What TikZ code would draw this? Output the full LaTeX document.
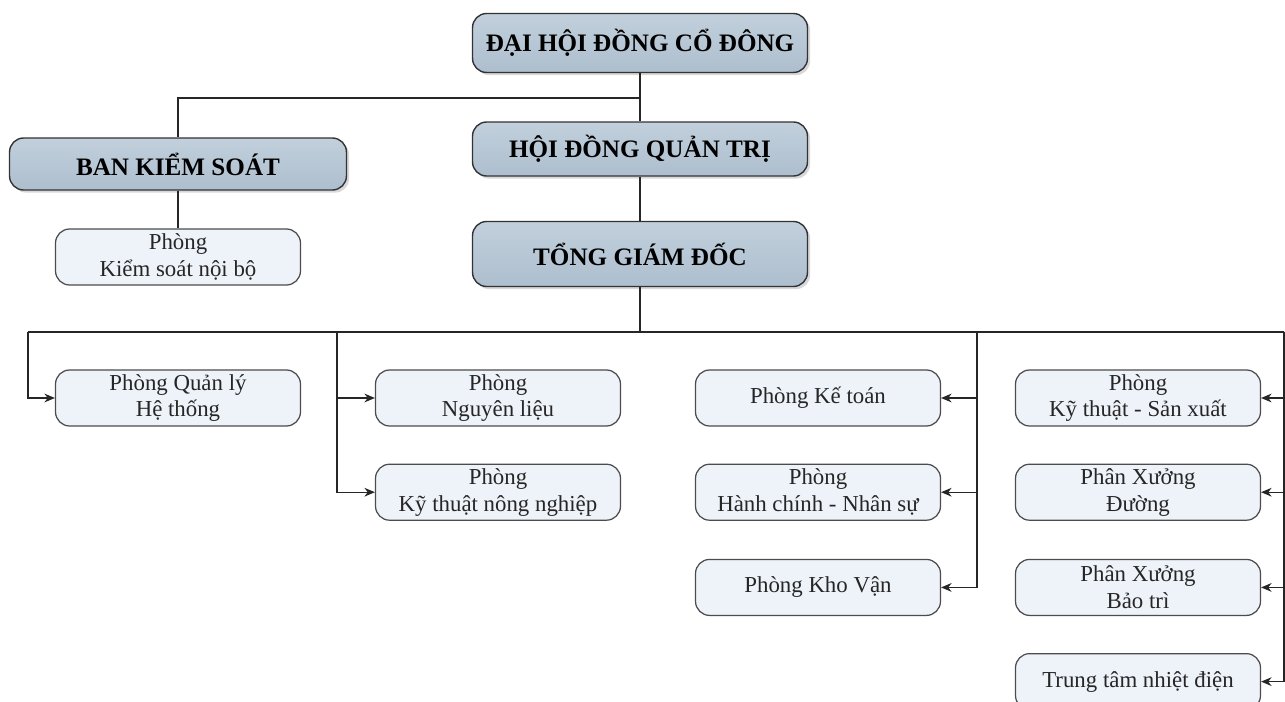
\documentclass[tikz,border=0pt]{standalone}
\usepackage{fontspec}
\setmainfont{Liberation Serif}
\usetikzlibrary{arrows.meta,positioning,shadows}
\definecolor{headtop}{HTML}{C2D0DC}
\definecolor{headbot}{HTML}{ADBECE}
\definecolor{unitfill}{HTML}{EEF2F9}
\definecolor{inktext}{HTML}{262626}
\tikzstyle{head} = [rectangle, rounded corners=8pt, draw=black!80, line width=0.8pt, top color=headtop, bottom color=headbot, minimum width=6.7cm, minimum height=1.18cm, font=\fontsize{14.3}{17}\selectfont\bfseries, drop shadow={shadow xshift=1.5pt, shadow yshift=-1.5pt, fill=black!30}]
\tikzstyle{unit} = [rectangle, rounded corners=8pt, draw=black!70, line width=0.7pt, fill=unitfill, minimum width=4.9cm, minimum height=1.12cm, inner ysep=1pt, align=center, text=inktext, font=\fontsize{13}{15.3}\selectfont]
\tikzstyle{link} = [black!85, line width=0.6pt]
\tikzstyle{arrow} = [link, -{Stealth[length=6pt,width=5pt]}]

\begin{document}
\begin{tikzpicture}[x=0.02cm, y=-0.02cm]
    \useasboundingbox (0,0) rectangle (1285,702);
    % board level
    \node (dhcd) [head] at (640,43) {ĐẠI HỘI ĐỒNG CỔ ĐÔNG};
    \node (hdqt) [head, minimum height=1.08cm] at (640,149) {HỘI ĐỒNG QUẢN TRỊ};
    \node (tgd) [head, minimum height=1.3cm] at (640,254) {TỔNG GIÁM ĐỐC};
    \node (bks) [head, minimum width=6.74cm, minimum height=1.04cm] at (178,164) {BAN KIỂM SOÁT};
    \node (ksnb) [unit] at (178,257) {Phòng\\Kiểm soát nội bộ};
    % departments
    \node (qlht) [unit] at (178,398) {Phòng Quản lý\\Hệ thống};
    \node (nl) [unit] at (498,398) {Phòng\\Nguyên liệu};
    \node (ktnn) [unit, below=0.74cm of nl] {Phòng\\Kỹ thuật nông nghiệp};
    \node (ketoan) [unit] at (818,398) {Phòng Kế toán};
    \node (hcns) [unit, below=0.74cm of ketoan] {Phòng\\Hành chính - Nhân sự};
    \node (khovan) [unit, below=0.76cm of hcns] {Phòng Kho Vận};
    \node (ktsx) [unit] at (1138,398) {Phòng\\Kỹ thuật - Sản xuất};
    \node (pxd) [unit, below=0.74cm of ktsx] {Phân Xưởng\\Đường};
    \node (pxbt) [unit, below=0.76cm of pxd] {Phân Xưởng\\Bảo trì};
    \node (ttnd) [unit, below=0.74cm of pxbt] {Trung tâm nhiệt điện};
    % connectors
    \coordinate (j1) at (640,98);
    \coordinate (bus) at (640,332);
    \coordinate (c1) at (28,332);
    \coordinate (c2) at (337,332);
    \coordinate (c3) at (977,332);
    \coordinate (c4) at (1284,332);
    \draw [link] (dhcd) -- (hdqt);
    \draw [link] (j1) -| (bks.north);
    \draw [link] (bks) -- (ksnb);
    \draw [link] (hdqt) -- (tgd);
    \draw [link] (tgd) -- (bus);
    \draw [link] (c1) -- (c4);
    \draw [arrow] (c1) |- (qlht.west);
    \draw [arrow] (c2) |- (nl.west);
    \draw [arrow] (c2) |- (ktnn.west);
    \draw [arrow] (c3) |- (ketoan.east);
    \draw [arrow] (c3) |- (hcns.east);
    \draw [arrow] (c3) |- (khovan.east);
    \draw [arrow] (c4) |- (ktsx.east);
    \draw [arrow] (c4) |- (pxd.east);
    \draw [arrow] (c4) |- (pxbt.east);
    \draw [arrow] (c4) |- (ttnd.east);
\end{tikzpicture}
\end{document}
